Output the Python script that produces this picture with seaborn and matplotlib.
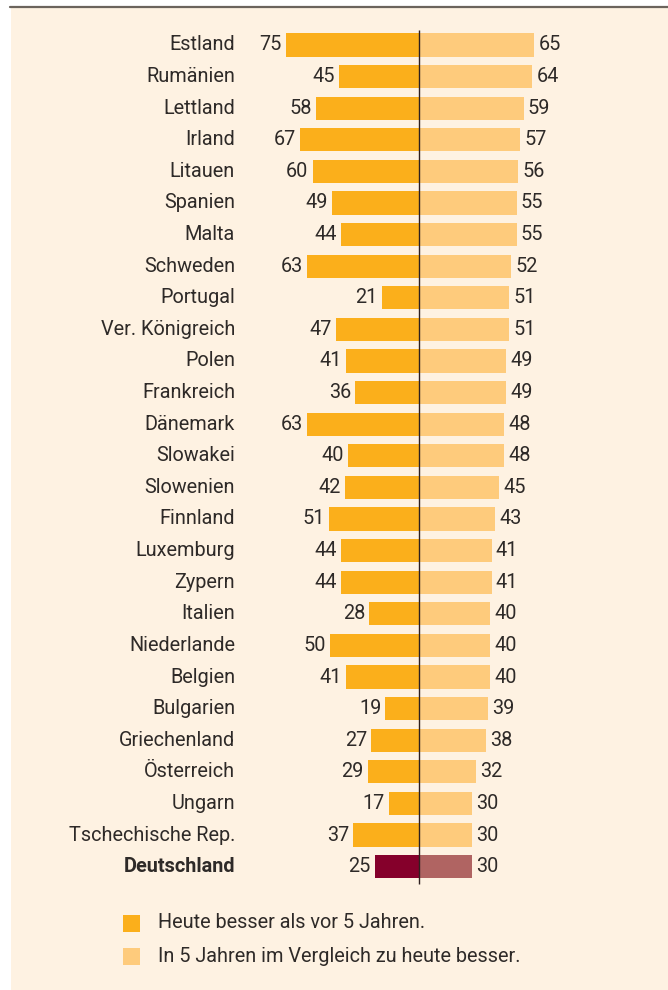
import matplotlib
matplotlib.use("Agg")
import matplotlib.pyplot as plt
import seaborn as sns
import pandas as pd
from matplotlib.patches import Rectangle

countries = ["Estland", "Rumänien", "Lettland", "Irland", "Litauen", "Spanien", "Malta",
             "Schweden", "Portugal", "Ver. Königreich", "Polen", "Frankreich", "Dänemark",
             "Slowakei", "Slowenien", "Finnland", "Luxemburg", "Zypern", "Italien",
             "Niederlande", "Belgien", "Bulgarien", "Griechenland", "Österreich", "Ungarn",
             "Tschechische Rep.", "Deutschland"]
heute_besser = [75, 45, 58, 67, 60, 49, 44, 63, 21, 47, 41, 36, 63, 40, 42, 51, 44, 44, 28,
                50, 41, 19, 27, 29, 17, 37, 25]
zukunft_besser = [65, 64, 59, 57, 56, 55, 55, 52, 51, 51, 49, 49, 48, 48, 45, 43, 41, 41, 40,
                  40, 40, 39, 38, 32, 30, 30, 30]
legend_labels = ["Heute besser als vor 5 Jahren.", "In 5 Jahren im Vergleich zu heute besser."]

BG = "#fef2e2"
C_LEFT = "#fbaf1b"
C_RIGHT = "#fecb7c"
C_LEFT_DE = "#85002b"
C_RIGHT_DE = "#b06462"
TXT = "#2e2a28"
FS = 14.3

sns.set_style("white")
plt.rcParams["font.family"] = ["Roboto", "DejaVu Sans"]

W, H = 668, 990
fig = plt.figure(figsize=(W / 100, H / 100), dpi=100)
fig.patch.set_facecolor("white")
# cream panel and top rule
fig.patches.append(Rectangle((11 / W, 0), 1 - 11 / W, 1 - 8 / H, transform=fig.transFigure,
                             facecolor=BG, edgecolor="none", zorder=-5))
fig.add_artist(plt.Line2D([10 / W, 1], [1 - 7 / H, 1 - 7 / H], color="#6b645c", lw=1.6,
                          transform=fig.transFigure))

ax = fig.add_axes([0, 0, 1, 1])
ax.set_facecolor("none")
ax.set_zorder(2)

df = pd.DataFrame({"land": countries, "heute": heute_besser, "zukunft": zukunft_besser})
df["neg"] = -df["heute"]
left_colors = [C_LEFT_DE if c == "Deutschland" else C_LEFT for c in countries]
right_colors = [C_RIGHT_DE if c == "Deutschland" else C_RIGHT for c in countries]

sns.barplot(data=df, x="neg", y="land", hue="land", palette=left_colors, orient="h",
            width=0.73, legend=False, ax=ax, saturation=1, linewidth=0, edgecolor="none")
sns.barplot(data=df, x="zukunft", y="land", hue="land", palette=right_colors, orient="h",
            width=0.73, legend=False, ax=ax, saturation=1, linewidth=0, edgecolor="none")

px_per_unit = 1.773
cx = 419
row_h = 31.6
y0 = 45
ax.set_xlim(-cx / px_per_unit, (W - cx) / px_per_unit)
ax.set_ylim((H - y0) / row_h, -y0 / row_h)
ax.axis("off")

# value labels
for cont in ax.containers:
    for bar in cont:
        w = bar.get_width()
        yc = bar.get_y() + bar.get_height() / 2
        if w < 0:
            ax.annotate(f"{abs(w):.0f}", (bar.get_x() + w if bar.get_x() == 0 else bar.get_x(), yc),
                        xytext=(-3, 0), textcoords="offset points", ha="right", va="center",
                        fontsize=FS, color=TXT)
        else:
            ax.annotate(f"{w:.0f}", (bar.get_x() + w, yc), xytext=(3, 0),
                        textcoords="offset points", ha="left", va="center",
                        fontsize=FS, color=TXT)

# country labels
lab_x = (235 - cx) / px_per_unit
for i, c in enumerate(countries):
    ax.text(lab_x, i, c, ha="right", va="center", fontsize=FS, color=TXT,
            fontweight="bold" if c == "Deutschland" else "normal")

# centre line
ax.vlines(0, (30 - y0) / row_h, (884 - y0) / row_h, color="#2e2020", lw=1)

# legend
for k, (lab, col) in enumerate(zip(legend_labels, [C_LEFT, C_RIGHT])):
    yc = 923 + 33 * k
    fig.patches.append(Rectangle((123 / W, 1 - (yc + 8.5) / H), 17 / W, 17 / H,
                                 transform=fig.transFigure, facecolor=col, edgecolor="none"))
    fig.text(158 / W, 1 - yc / H, lab, ha="left", va="center", fontsize=FS, color=TXT)

fig.savefig("out.png", dpi=100, facecolor=fig.get_facecolor())
